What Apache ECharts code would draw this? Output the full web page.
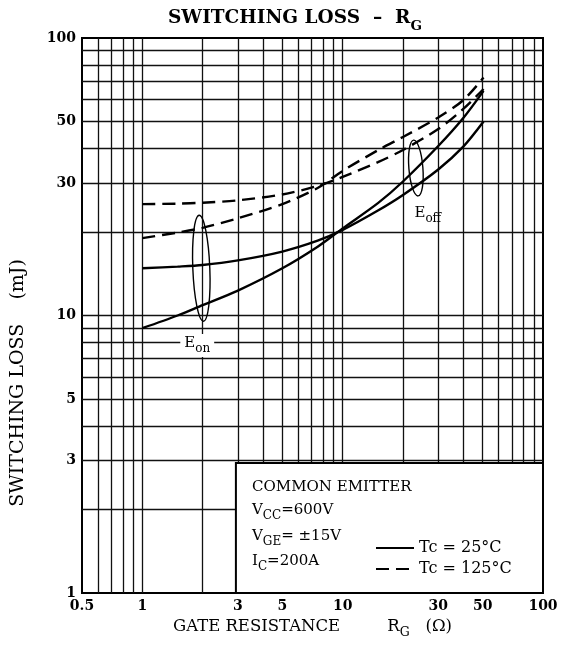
<!DOCTYPE html>
<html>
<head>
<meta charset="utf-8">
<script src="https://cdn.jsdelivr.net/npm/echarts@6/dist/echarts.min.js"></script>
<style>
html, body { margin: 0; background: #fff; }
#box { width: 562px; height: 663px; }
</style>
</head>
<body>
<div id="box"></div>
<script>
// gate resistance (ohm) sampled along the curves
const rg = [1, 1.5, 2, 3, 5, 7.5, 10, 15, 20, 30, 40, 50.5];
// switching loss (mJ)
const eon25 = [9.0, 10.0, 10.9, 12.3, 14.8, 17.7, 20.6, 25.4, 30.4, 40.8, 51.5, 64.5];
const eoff25 = [14.8, 15.0, 15.2, 15.8, 17.0, 18.6, 20.35, 23.9, 27.2, 33.6, 40.6, 50.0];
const eon125 = [19.0, 19.9, 20.7, 22.4, 25.2, 28.8, 33.2, 39.4, 44.0, 51.7, 59.7, 72.0];
const eoff125 = [25.2, 25.3, 25.5, 26.0, 27.3, 29.3, 31.6, 35.7, 39.5, 47.0, 55.5, 65.5];

const xTicks = [0.5, 1, 3, 5, 10, 30, 50, 100];
const yTicks = [1, 3, 5, 10, 30, 50, 100];
const xGrid = [0.6, 0.7, 0.8, 0.9, 1, 2, 3, 4, 5, 6, 7, 8, 9, 10, 20, 30, 40, 50, 60, 70, 80, 90];
const yGrid = [2, 3, 4, 5, 6, 7, 8, 9, 10, 20, 30, 40, 50, 60, 70, 80, 90];

// annotation anchors [RG, loss]
const eonRing = [1.97, 14.8];
const eoffRing = [23.2, 34.0];
const eonText = [1.88, 7.8];
const eoffText = [26.6, 23.0];

const FONT = '"DejaVu Serif", serif';
const subBig = {
    m: { fontFamily: FONT, fontSize: 15, color: '#000', verticalAlign: 'bottom', padding: [0, 0, 4, 0] },
    s: { fontFamily: FONT, fontSize: 12, color: '#000', verticalAlign: 'bottom' }
};
const subAxis = {
    m: { fontFamily: FONT, fontSize: 16.5, color: '#000', verticalAlign: 'bottom', padding: [0, 0, 4, 0] },
    s: { fontFamily: FONT, fontSize: 12.5, color: '#000', verticalAlign: 'bottom' }
};

function pairs(ys) {
    return rg.map((r, i) => [r, ys[i]]);
}

function curve(name, ys, dashed) {
    return {
        name: name,
        type: 'line',
        data: pairs(ys),
        smooth: 0.3,
        symbol: 'none',
        z: 5,
        itemStyle: { color: '#000' },
        lineStyle: { color: '#000', width: 2.4, type: dashed ? [13, 7] : 'solid' }
    };
}

const gridLines = {
    type: 'line',
    data: [],
    z: 1,
    silent: true,
    markLine: {
        silent: true,
        symbol: ['none', 'none'],
        label: { show: false },
        lineStyle: { color: '#111', width: 1.3, type: 'solid' },
        data: xGrid.map(v => ({ xAxis: v })).concat(yGrid.map(v => ({ yAxis: v })))
    }
};

var myChart = echarts.init(document.getElementById('box'));

var option = {
    animation: false,
    backgroundColor: '#fff',
    title: {
        text: '{m|SWITCHING LOSS  –  R}{s|G}',
        left: 163,
        top: 4,
        textStyle: {
            rich: {
                m: { fontFamily: FONT, fontSize: 18.5, color: '#000', verticalAlign: 'bottom', padding: [0, 0, 5, 0] },
                s: { fontFamily: FONT, fontSize: 13.5, color: '#000', verticalAlign: 'bottom' }
            }
        }
    },
    grid: {
        left: 82,
        right: 19,
        top: 38,
        bottom: 70,
        show: true,
        borderColor: '#000',
        borderWidth: 2
    },
    xAxis: {
        type: 'log',
        logBase: 10,
        min: 0.5,
        max: 100,
        name: '{m|GATE RESISTANCE         R}{s|G}{m|   (Ω)}',
        nameLocation: 'middle',
        nameGap: 24,
        nameTextStyle: { rich: subAxis },
        axisLine: { show: false },
        axisTick: { show: false },
        splitLine: { show: false },
        axisLabel: {
            customValues: xTicks,
            margin: 6,
            fontFamily: FONT,
            fontSize: 14,
            fontWeight: 'bold',
            color: '#000'
        }
    },
    yAxis: {
        type: 'log',
        logBase: 10,
        min: 1,
        max: 100,
        axisLine: { show: false },
        axisTick: { show: false },
        splitLine: { show: false },
        axisLabel: {
            customValues: yTicks,
            margin: 6,
            fontFamily: FONT,
            fontSize: 14,
            fontWeight: 'bold',
            color: '#000'
        }
    },
    legend: {
        data: ['Tc=25°C', 'Tc=125°C'],
        orient: 'vertical',
        left: 370,
        top: 535,
        z: 200,
        itemWidth: 38,
        itemHeight: 14,
        itemGap: 5,
        itemStyle: { opacity: 0 },
        formatter: name => name.replace('=', ' = '),
        textStyle: { fontFamily: FONT, fontSize: 16, color: '#000' }
    },
    series: [
        gridLines,
        curve('Tc=25°C', eon25, false),
        curve('Tc=25°C', eoff25, false),
        curve('Tc=125°C', eon125, true),
        curve('Tc=125°C', eoff125, true)
    ]
};
myChart.setOption(option);

// conditions box and annotations, placed through the chart's own scales
const toPx = p => myChart.convertToPixel({ gridIndex: 0 }, p);
const boxTL = toPx([3, 100]);
const boxBR = toPx([100, 1]);
const c1 = toPx(eonRing);
const c2 = toPx(eoffRing);
const t1 = toPx(eonText);
const t2 = toPx(eoffText);

myChart.setOption({
    graphic: [
        {
            type: 'rect',
            z: 100,
            shape: { x: boxTL[0] - 2, y: 463, width: boxBR[0] - boxTL[0] + 2, height: boxBR[1] - 463 },
            style: { fill: '#fff', stroke: '#000', lineWidth: 2 }
        },
        {
            type: 'text', z: 110, left: 252, top: 480,
            style: { text: 'COMMON EMITTER', font: '15px ' + FONT, fill: '#000' }
        },
        {
            type: 'text', z: 110, left: 252, top: 503,
            style: { text: '{m|V}{s|CC}{m|=600V}', rich: subBig }
        },
        {
            type: 'text', z: 110, left: 252, top: 529,
            style: { text: '{m|V}{s|GE}{m|= ±15V}', rich: subBig }
        },
        {
            type: 'text', z: 110, left: 252, top: 554,
            style: { text: '{m|I}{s|C}{m|=200A}', rich: subBig }
        },
        {
            type: 'ellipse', z: 20, x: c1[0], y: c1[1], rotation: 0.04,
            shape: { cx: 0, cy: 0, rx: 8.5, ry: 53 },
            style: { fill: 'none', stroke: '#000', lineWidth: 1.4 }
        },
        {
            type: 'ellipse', z: 20, x: c2[0], y: c2[1], rotation: 0.08,
            shape: { cx: 0, cy: 0, rx: 7, ry: 28 },
            style: { fill: 'none', stroke: '#000', lineWidth: 1.4 }
        },
        {
            type: 'text', z: 30, x: t1[0], y: t1[1],
            style: {
                text: '{m|E}{s|on}', rich: subBig, align: 'center', verticalAlign: 'middle',
                backgroundColor: '#fff', padding: [2, 4, 2, 4]
            }
        },
        {
            type: 'text', z: 30, x: t2[0], y: t2[1],
            style: { text: '{m|E}{s|off}', rich: subBig, align: 'center', verticalAlign: 'middle' }
        },
        {
            type: 'text', z: 30, x: 18, y: 383, rotation: Math.PI / 2,
            style: {
                text: 'SWITCHING LOSS    (mJ)', font: '19px ' + FONT, fill: '#000',
                align: 'center', verticalAlign: 'middle'
            }
        }
    ]
});
</script>
</body>
</html>
